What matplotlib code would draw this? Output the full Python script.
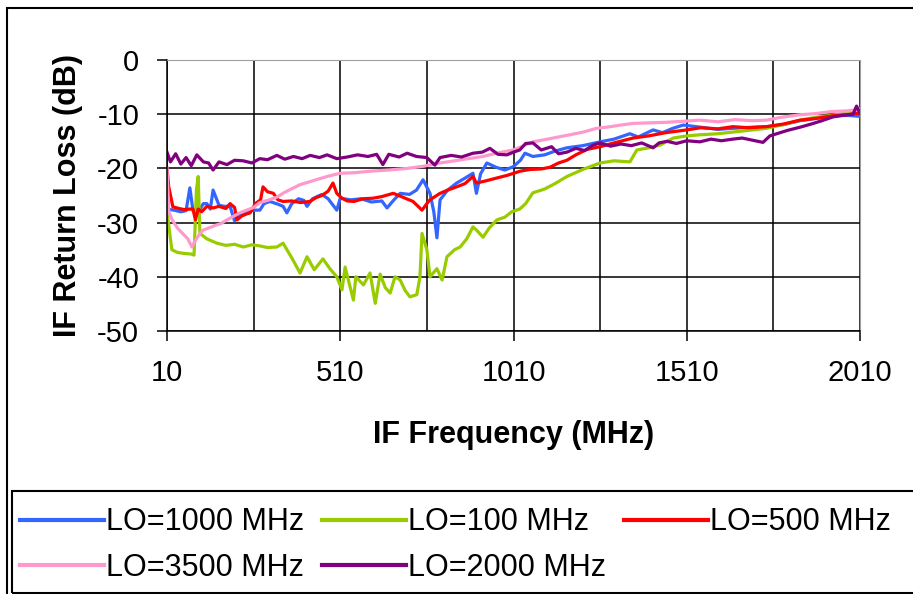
import numpy as np
import matplotlib.pyplot as plt
from matplotlib.patches import Rectangle

plt.rcParams['font.family'] = ['Liberation Sans', 'DejaVu Sans']
plt.rcParams['axes.unicode_minus'] = False

# LO=1000 MHz
f_1000 = [10, 30, 50, 65, 76, 85, 100, 115, 125, 135, 143, 160, 175, 192, 205, 220, 240, 260, 278, 290,
          307, 330, 345, 356, 370, 390, 405, 414, 430, 457, 475, 500, 510, 540, 570, 600, 630, 645, 665, 683,
          710, 730, 749, 769, 780, 789, 798, 820, 846, 870, 893, 903, 915, 933, 960, 985, 1009, 1030, 1043, 1066,
          1100, 1130, 1164, 1210, 1260, 1300, 1346, 1370, 1413, 1440, 1470, 1500, 1550, 1600, 1643, 1700, 1740,
          1790, 1837, 1880, 1930, 1970, 2010]
rl_1000 = [-27.5, -27.7, -28.0, -27.8, -23.6, -27.8, -28.0, -26.5, -26.5, -27.5, -24.0, -26.8, -27.0, -27.0,
           -29.7, -28.5, -28.0, -27.7, -27.7, -26.5, -26.1, -26.6, -27.0, -28.2, -26.5, -25.6, -25.9, -27.0,
           -25.6, -24.8, -25.6, -27.7, -25.5, -25.8, -25.6, -26.2, -26.0, -27.3, -25.8, -24.6, -24.8, -24.0,
           -22.1, -24.6, -28.0, -32.8, -25.8, -24.0, -22.7, -21.8, -20.9, -24.6, -21.0, -19.0, -19.8, -20.3,
           -19.7, -18.5, -17.2, -17.8, -17.5, -16.8, -16.2, -15.8, -15.1, -14.6, -13.6, -14.2, -12.9, -13.4,
           -12.6, -12.0, -12.4, -12.8, -12.6, -12.4, -12.3, -11.9, -11.2, -10.8, -10.4, -10.2, -10.4]

# LO=100 MHz
f_100 = [10, 24, 40, 60, 80, 88, 95, 100, 105, 125, 154, 180, 205, 230, 255, 278, 300, 327, 345, 370,
         394, 414, 435, 460, 480, 500, 515, 524, 548, 555, 577, 596, 611, 625, 640, 654, 668, 683, 697, 711,
         731, 740, 746, 760, 769, 789, 804, 818, 840, 856, 875, 893, 905, 922, 940, 962, 985, 1005, 1028, 1045,
         1066, 1100, 1130, 1164, 1210, 1260, 1300, 1346, 1366, 1400, 1433, 1471, 1510, 1548, 1600, 1643, 1700,
         1740, 1790, 1837, 1880, 1930, 1970, 2010]
rl_100 = [-28.0, -35.0, -35.5, -35.7, -35.8, -36.0, -24.0, -21.5, -32.0, -33.0, -33.8, -34.2, -34.0, -34.5,
          -34.1, -34.3, -34.6, -34.5, -33.8, -36.5, -39.3, -36.3, -38.7, -36.7, -38.5, -40.0, -42.4, -38.2,
          -44.3, -40.0, -41.5, -39.3, -44.9, -39.5, -42.0, -43.0, -40.0, -40.6, -42.5, -43.7, -43.3, -40.0,
          -32.0, -35.0, -40.0, -38.5, -40.6, -36.3, -35.0, -34.5, -33.0, -30.8, -31.5, -32.7, -31.0, -29.5,
          -29.0, -28.0, -27.5, -26.5, -24.5, -23.8, -22.8, -21.5, -20.2, -19.0, -18.6, -18.8, -16.6, -16.2,
          -15.7, -14.4, -14.0, -13.8, -13.6, -13.3, -12.9, -12.6, -11.9, -11.1, -10.6, -10.2, -9.8, -9.5]

# LO=500 MHz
f_500 = [10, 15, 27, 45, 60, 75, 85, 92, 100, 110, 125, 143, 160, 180, 192, 205, 212, 225, 240, 250,
         265, 280, 287, 300, 317, 330, 345, 370, 395, 422, 440, 457, 475, 489, 500, 515, 530, 550, 575, 605,
         630, 663, 690, 720, 746, 760, 769, 798, 820, 846, 870, 893, 903, 930, 960, 991, 1030, 1058, 1090, 1115,
         1140, 1164, 1190, 1222, 1260, 1300, 1355, 1400, 1450, 1510, 1550, 1600, 1643, 1690, 1740, 1790, 1837,
         1880, 1930, 1970, 2010]
rl_500 = [-20.0, -23.4, -27.1, -27.4, -27.6, -27.5, -27.5, -29.5, -27.5, -28.0, -27.0, -27.3, -27.0, -27.4,
          -26.5, -27.2, -29.5, -28.8, -28.4, -28.2, -26.5, -25.8, -23.4, -24.3, -24.6, -25.8, -26.1, -26.0,
          -26.3, -26.1, -25.4, -25.0, -24.2, -22.7, -24.6, -25.5, -26.0, -26.1, -25.6, -25.5, -25.2, -24.6,
          -25.3, -26.1, -27.7, -26.5, -25.8, -24.6, -24.0, -23.4, -22.8, -21.5, -22.7, -22.3, -21.8, -21.3,
          -20.5, -20.2, -20.1, -19.8, -19.0, -18.5, -17.5, -16.5, -16.0, -15.3, -14.4, -14.0, -13.4, -12.9,
          -12.5, -12.7, -12.3, -12.5, -12.3, -11.8, -11.1, -10.8, -10.3, -10.1, -9.8]

# LO=3500 MHz
f_3500 = [10, 15, 25, 40, 55, 70, 82, 90, 105, 114, 130, 150, 165, 183, 200, 220, 240, 260, 278, 300,
          327, 350, 375, 394, 420, 445, 472, 490, 510, 550, 600, 650, 703, 750, 798, 840, 880, 922, 960, 1009,
          1040, 1066, 1100, 1140, 1180, 1211, 1250, 1290, 1320, 1355, 1400, 1450, 1500, 1548, 1600, 1650, 1700,
          1740, 1780, 1837, 1880, 1930, 1970, 2000, 2010]
rl_3500 = [-20.0, -28.0, -29.5, -31.0, -32.0, -33.0, -34.5, -33.5, -32.0, -31.4, -31.0, -30.5, -30.2, -29.5,
           -28.9, -28.2, -27.7, -27.2, -26.3, -25.9, -25.3, -24.4, -23.6, -23.0, -22.5, -22.0, -21.5, -21.2,
           -20.9, -20.8, -20.5, -20.3, -20.0, -19.6, -19.0, -18.6, -18.2, -17.8, -17.2, -16.6, -15.8, -15.1,
           -14.7, -14.2, -13.7, -13.3, -12.6, -12.3, -12.0, -11.7, -11.6, -11.5, -11.3, -11.1, -11.4, -11.0,
           -11.2, -11.1, -10.6, -10.1, -9.9, -9.5, -9.4, -9.2, -9.0]

# LO=2000 MHz
f_2000 = [10, 20, 35, 50, 65, 80, 96, 115, 130, 143, 160, 183, 205, 230, 255, 278, 300, 327, 350, 375,
          400, 423, 450, 472, 500, 530, 560, 590, 615, 633, 650, 680, 703, 730, 760, 783, 798, 830, 860, 893,
          920, 942, 965, 991, 1010, 1028, 1045, 1066, 1090, 1120, 1140, 1164, 1190, 1215, 1240, 1260, 1290, 1320,
          1350, 1380, 1413, 1430, 1453, 1480, 1510, 1548, 1580, 1610, 1643, 1670, 1700, 1730, 1750, 1770, 1800,
          1837, 1870, 1900, 1932, 1960, 1990, 2000, 2010]
rl_2000 = [-17.0, -18.8, -17.3, -19.2, -18.0, -19.5, -17.5, -18.8, -19.0, -20.3, -18.8, -19.3, -18.5, -18.6,
           -19.0, -18.2, -18.4, -17.6, -18.3, -17.8, -18.2, -17.6, -18.0, -17.5, -18.2, -17.9, -17.5, -17.8,
           -17.4, -19.3, -17.4, -17.9, -17.2, -17.8, -18.0, -19.4, -18.0, -17.6, -17.9, -17.2, -17.0, -16.3,
           -17.4, -17.5, -17.0, -16.6, -15.4, -15.3, -16.6, -16.0, -17.3, -17.0, -16.3, -16.7, -15.7, -15.3,
           -15.9, -15.5, -15.8, -15.3, -16.2, -15.3, -15.0, -15.4, -14.9, -15.1, -14.6, -14.9, -14.6, -14.4,
           -14.8, -15.2, -14.0, -13.6, -13.0, -12.4, -11.8, -11.2, -10.5, -10.2, -10.0, -8.5, -9.8]

series = [
    ('LO=1000 MHz', f_1000, rl_1000, '#3366ff'),
    ('LO=100 MHz', f_100, rl_100, '#99cc00'),
    ('LO=500 MHz', f_500, rl_500, '#ff0000'),
    ('LO=3500 MHz', f_3500, rl_3500, '#ff99cc'),
    ('LO=2000 MHz', f_2000, rl_2000, '#800080'),
]

fig = plt.figure(figsize=(9.13, 5.94), dpi=100)
ax = fig.add_axes([167 / 913, 1 - 331 / 594, (860 - 167) / 913, (331 - 60) / 594])

lines = {}
for name, f, rl, col in series:
    lines[name], = ax.plot(f, rl, color=col, lw=2.3, label=name)

ax.set_xlim(10, 2010)
ax.set_ylim(-50, 0)
ax.set_xticks([10, 510, 1010, 1510, 2010])
ax.set_xticks([260, 760, 1260, 1760], minor=True)
ax.set_yticks(np.arange(-50, 1, 10))

ax.grid(True, which='both', color='black', lw=1.1)
ax.set_axisbelow(True)
ax.tick_params(axis='both', which='major', direction='out', length=7, width=1.1,
               labelsize=21, pad=13, colors='black')
ax.tick_params(axis='x', which='minor', length=0)
for s in ['top', 'right']:
    ax.spines[s].set_color('#a0a0a0')
for s in ['left', 'bottom']:
    ax.spines[s].set_color('black')
    ax.spines[s].set_linewidth(1.1)

ax.set_xlabel('IF Frequency (MHz)', fontsize=22, fontweight='bold', labelpad=24)
ax.set_ylabel('IF Return Loss (dB)', fontsize=22, fontweight='bold', labelpad=10)

# outer chart frame and legend box
fig.patches.append(Rectangle((7 / 913, -0.02), 1.02, 1 - 8 / 594 + 0.02, transform=fig.transFigure,
                             fill=False, ec='black', lw=1.5))
fig.patches.append(Rectangle((12 / 913, 1 - 593 / 594), 1.0, (593 - 491) / 594, transform=fig.transFigure,
                             fill=False, ec='black', lw=1.5))

order = ['LO=1000 MHz', 'LO=3500 MHz', 'LO=100 MHz', 'LO=2000 MHz', 'LO=500 MHz']
leg = fig.legend([lines[n] for n in order], order, ncol=3, loc='upper left',
                 bbox_to_anchor=(-1 / 913, 1 - 486 / 594), frameon=False, fontsize=22,
                 handlelength=2.75, handletextpad=0.05, columnspacing=0.6, labelspacing=0.5,
                 borderpad=0.2)
for h in leg.legend_handles:
    h.set_linewidth(3)

fig.savefig('out.png', dpi=100)
